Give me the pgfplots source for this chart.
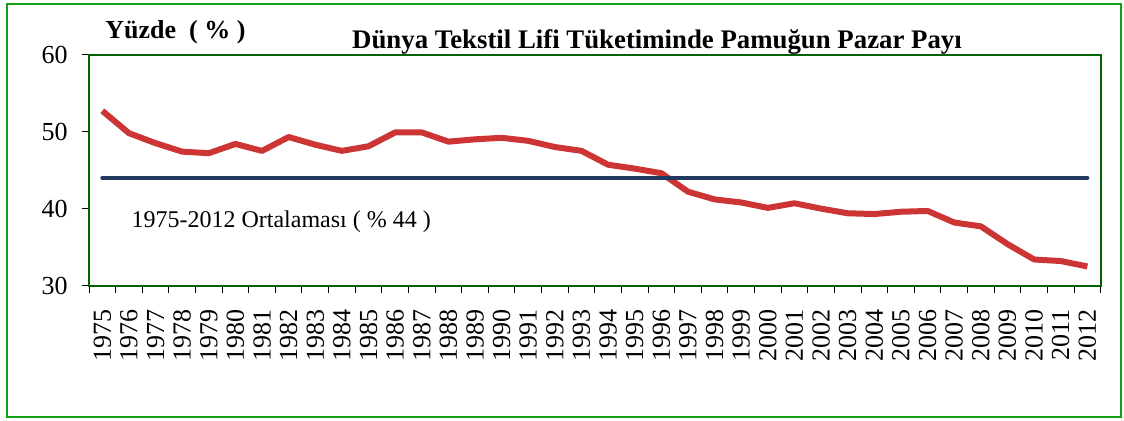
\documentclass[border=0pt]{standalone}
\usepackage{pgfplots}
\pgfplotsset{compat=1.18}
\usepackage{fontspec}
\setmainfont{Liberation Serif}
\definecolor{cred}{RGB}{205,52,52}
\definecolor{cnavy}{RGB}{31,56,96}
\definecolor{cgreen}{RGB}{0,100,0}
\definecolor{cframe}{RGB}{20,160,20}
\pgfplotstableread{
year share
1975 52.7
1976 49.8
1977 48.5
1978 47.4
1979 47.2
1980 48.4
1981 47.5
1982 49.3
1983 48.3
1984 47.5
1985 48.1
1986 49.9
1987 49.9
1988 48.7
1989 49.0
1990 49.2
1991 48.8
1992 48.0
1993 47.5
1994 45.7
1995 45.2
1996 44.6
1997 42.2
1998 41.2
1999 40.8
2000 40.1
2001 40.7
2002 40.0
2003 39.4
2004 39.3
2005 39.6
2006 39.7
2007 38.2
2008 37.7
2009 35.4
2010 33.4
2011 33.2
2012 32.5
}\cotton
\begin{document}
\begin{tikzpicture}[x=1pt,y=1pt]
\useasboundingbox (0,0) rectangle (562,210.5);
\draw[cframe, line width=1pt] (3.5,1.8) rectangle (560.5,208.3);
\begin{axis}[at={(44.5pt,67.65pt)}, anchor=south west,
  scale only axis, width=505.85pt, height=115.55pt,
  xmin=1974.5, xmax=2012.5, ymin=30, ymax=60,
  xtick={1975,...,2012},
  minor xtick={1974.5,1975.5,...,2012.5},
  ytick={30,40,50,60},
  xtick pos=bottom, ytick pos=left,
  tick align=outside,
  major tick length=3.5pt, minor tick length=3.5pt,
  major x tick style={draw=none},
  every tick/.style={black, line width=0.5pt},
  axis line style={cgreen, line width=1pt},
  /pgf/number format/assume math mode=true,
  /pgf/number format/1000 sep={},
  tick label style={font=\fontsize{13}{13}\selectfont, inner sep=0pt},
  xticklabel style={rotate=90, anchor=east},
  yticklabel style={anchor=east},
  xticklabel shift=8pt,
  yticklabel shift=7pt,
]
\addplot[cred, line width=3pt, line join=round] table[x=year, y=share] {\cotton};
\addplot[cnavy, line width=2pt, line cap=round] coordinates {(1975,44) (2012,44)};
\end{axis}
\node[anchor=base west, font=\fontsize{13}{13}\selectfont\bfseries, inner sep=0pt] at (52.5,191) {Yüzde~ ( \% )};
\node[anchor=base, font=\fontsize{13.4}{13.4}\selectfont\bfseries, inner sep=0pt] at (328.5,186.35) {Dünya Tekstil Lifi Tüketiminde Pamuğun Pazar Payı};
\node[anchor=base west, font=\fontsize{12}{12}\selectfont, inner sep=0pt] at (65.6,96.85) {1975-2012 Ortalaması ( \% 44 )};
\end{tikzpicture}
\end{document}
